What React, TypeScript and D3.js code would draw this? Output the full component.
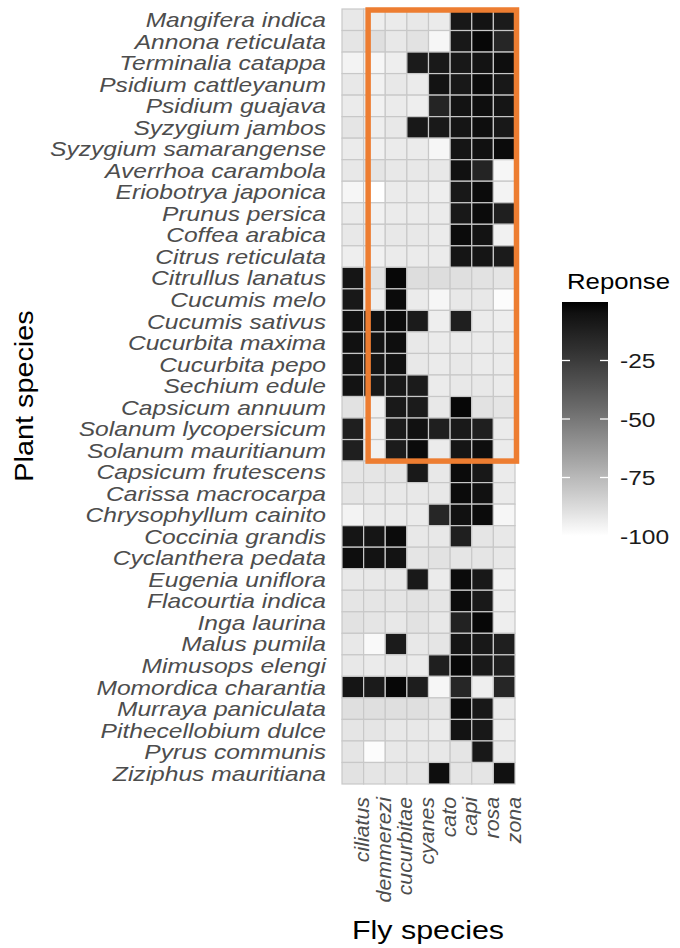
import React from "react";
import * as d3 from "d3";

const flies = ["ciliatus", "demmerezi", "cucurbitae", "cyanes", "cato", "capi", "rosa", "zona"];

const plants = [
  "Mangifera indica", "Annona reticulata", "Terminalia catappa", "Psidium cattleyanum",
  "Psidium guajava", "Syzygium jambos", "Syzygium samarangense", "Averrhoa carambola",
  "Eriobotrya japonica", "Prunus persica", "Coffea arabica", "Citrus reticulata",
  "Citrullus lanatus", "Cucumis melo", "Cucumis sativus", "Cucurbita maxima",
  "Cucurbita pepo", "Sechium edule", "Capsicum annuum", "Solanum lycopersicum",
  "Solanum mauritianum", "Capsicum frutescens", "Carissa macrocarpa", "Chrysophyllum cainito",
  "Coccinia grandis", "Cyclanthera pedata", "Eugenia uniflora", "Flacourtia indica",
  "Inga laurina", "Malus pumila", "Mimusops elengi", "Momordica charantia",
  "Murraya paniculata", "Pithecellobium dulce", "Pyrus communis", "Ziziphus mauritiana",
];

// one row per plant, columns in the order of `flies`
const response = [
  [-92, -94, -93, -92, -93, -8, -6, -10],
  [-91, -89, -92, -90, -97, -8, -2, -15],
  [-96, -97, -94, -10, -9, -8, -6, -4],
  [-92, -95, -92, -93, -6, -8, -3, -8],
  [-93, -95, -93, -94, -14, -6, -4, -7],
  [-91, -94, -92, -8, -9, -7, -4, -8],
  [-93, -95, -93, -93, -97, -7, -5, -3],
  [-92, -91, -92, -92, -92, -5, -14, -97],
  [-97, -100, -93, -93, -94, -8, -3, -96],
  [-93, -95, -93, -93, -93, -8, -3, -12],
  [-92, -94, -92, -92, -93, -3, -6, -95],
  [-94, -95, -93, -93, -93, -7, -7, -10],
  [-7, -90, -2, -88, -88, -89, -90, -91],
  [-8, -94, -3, -93, -97, -92, -92, -99],
  [-5, -5, -3, -10, -94, -12, -93, -94],
  [-5, -6, -4, -92, -93, -93, -93, -93],
  [-6, -7, -5, -92, -93, -92, -93, -93],
  [-6, -9, -8, -10, -93, -92, -92, -93],
  [-90, -95, -9, -10, -92, -2, -90, -91],
  [-12, -95, -10, -5, -12, -9, -12, -93],
  [-12, -95, -10, -3, -93, -7, -4, -93],
  [-91, -91, -91, -9, -92, -3, -8, -93],
  [-91, -92, -92, -92, -92, -3, -5, -93],
  [-96, -93, -93, -93, -15, -5, -3, -97],
  [-7, -7, -3, -92, -92, -12, -91, -92],
  [-4, -6, -6, -91, -90, -91, -91, -92],
  [-92, -92, -92, -9, -93, -3, -8, -95],
  [-91, -91, -91, -90, -91, -3, -9, -94],
  [-90, -91, -92, -90, -92, -13, -2, -94],
  [-92, -98, -10, -92, -91, -7, -8, -12],
  [-92, -93, -92, -93, -12, -2, -9, -12],
  [-7, -10, -2, -11, -97, -15, -94, -15],
  [-89, -89, -89, -89, -91, -3, -8, -93],
  [-91, -91, -92, -92, -93, -6, -8, -94],
  [-91, -99, -92, -92, -92, -91, -8, -93],
  [-90, -91, -91, -91, -4, -91, -91, -5],
];

const legendTicks = [-25, -50, -75, -100];

const W = 680;
const H = 948;
const SX = 1.17; // horizontal stretch of the text
const SXY = 1.2; // stretch of the plant labels

export default function App() {
  const x = d3.scaleBand<string>().domain(flies).range([342, 515]);
  const y = d3.scaleBand<string>().domain(plants).range([9, 784]);
  const color = d3
    .scaleLinear<string>()
    .domain([-100, 0])
    .range(["#ffffff", "#000000"])
    .interpolate(d3.interpolateLab);
  const ly = d3.scaleLinear().domain([-100, 0]).range([536, 302]);

  const cells = plants.flatMap((p, i) =>
    flies.map((f, j) => ({ p, f, v: response[i][j] }))
  );

  const stops = d3.range(0, 1.0001, 0.05).map((t) => ({
    off: t,
    c: color(-100 + 100 * (1 - t)),
  }));

  const boxL = (x(flies[1]) as number) + 4.5;
  const boxR = x.range()[1] + 1.5;
  const boxT = (y(plants[0]) as number) + 1;
  const boxB = (y(plants[20]) as number) + y.bandwidth();

  const font = "'Liberation Sans', Arial, sans-serif";

  return (
    <svg
      width={W}
      height={H}
      style={{ position: "absolute", left: 0, top: 0, background: "#fff" }}
      fontFamily={font}
    >
      <defs>
        <linearGradient id="lg" x1="0" y1="0" x2="0" y2="1">
          {stops.map((s, i) => (
            <stop key={i} offset={s.off} stopColor={s.c} />
          ))}
        </linearGradient>
      </defs>

      {/* tiles */}
      <g>
        {cells.map((c, i) => (
          <rect
            key={i}
            x={x(c.f)}
            y={y(c.p)}
            width={x.bandwidth()}
            height={y.bandwidth()}
            fill={color(c.v)}
            stroke="#c8c8c8"
            strokeWidth={1.2}
          />
        ))}
      </g>

      {/* y axis labels */}
      <g>
        {plants.map((p) => (
          <g key={p} transform={`translate(326,${(y(p) as number) + y.bandwidth() / 2}) scale(${SXY},1)`}>
            <text
              textAnchor="end"
              dy="0.36em"
              fontSize={20.5}
              fontStyle="italic"
              fill="#4d4d4d"
            >
              {p}
            </text>
          </g>
        ))}
      </g>

      {/* x axis labels */}
      <g>
        {flies.map((f) => (
          <g
            key={f}
            transform={`translate(${(x(f) as number) + x.bandwidth() / 2 + 9},797) rotate(-90) scale(1.04,1)`}
          >
            <text textAnchor="end" dy="0.36em" fontSize={20.5} fontStyle="italic" fill="#4d4d4d">
              {f}
            </text>
          </g>
        ))}
      </g>

      {/* axis titles */}
      <g transform={`translate(428,939) scale(${SX},1)`}>
        <text textAnchor="middle" fontSize={26} fill="#000">
          Fly species
        </text>
      </g>
      <g transform={`translate(33,396) rotate(-90) scale(1.13,1)`}>
        <text textAnchor="middle" fontSize={25.5} fill="#000">
          Plant species
        </text>
      </g>

      {/* highlight box */}
      <rect
        x={boxL}
        y={boxT}
        width={boxR - boxL}
        height={boxB - boxT}
        fill="none"
        stroke="#ED7D31"
        strokeWidth={5.5}
      />

      {/* legend */}
      <g transform={`translate(567,289) scale(${SX},1)`}>
        <text fontSize={22} fill="#000">
          Reponse
        </text>
      </g>
      <rect x={562} y={ly(0)} width={46} height={ly(-100) - ly(0)} fill="url(#lg)" />
      {legendTicks.map((t) => (
        <g key={t}>
          <line x1={562} x2={570} y1={ly(t)} y2={ly(t)} stroke="#fff" strokeWidth={1.3} />
          <line x1={600} x2={608} y1={ly(t)} y2={ly(t)} stroke="#fff" strokeWidth={1.3} />
          <g transform={`translate(620,${ly(t)}) scale(${SX},1)`}>
            <text dy="0.36em" fontSize={21} fill="#1a1a1a">
              {t}
            </text>
          </g>
        </g>
      ))}
    </svg>
  );
}
